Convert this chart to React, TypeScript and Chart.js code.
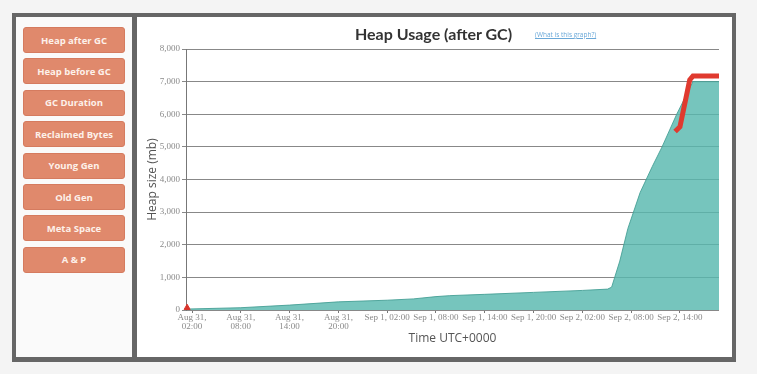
import React, { useEffect, useRef } from "react";
import { Chart, registerables } from "chart.js";

Chart.register(...registerables);

// hours since Aug 31 00:00 UTC
const heapHours = [1.3, 1.5, 8, 14, 20, 26, 29.2, 32, 33.7, 38, 44, 50, 53.1, 53.6, 54.6, 55.6, 57.1, 58.6, 59.8, 61.6, 63.6, 66.8];
const heapValues = [0, 30, 70, 150, 250, 300, 340, 410, 440, 480, 540, 600, 640, 700, 1500, 2500, 3600, 4400, 5000, 6000, 7000, 7000];

const redHours = [61.4, 62, 63.2, 63.6, 66.8];
const redValues = [5470, 5620, 7050, 7170, 7170];

const markerHours = [1.4];
const markerValues = [70];

const yTickValues = [0, 1000, 2000, 3000, 4000, 5000, 6000, 7000, 8000];
const xTickHours = [2, 8, 14, 20, 26, 32, 38, 44, 50, 56, 62];
const xTickLabels: (string | string[])[] = [
  ["Aug 31,", "02:00"],
  ["Aug 31,", "08:00"],
  ["Aug 31,", "14:00"],
  ["Aug 31,", "20:00"],
  "Sep 1, 02:00",
  "Sep 1, 08:00",
  "Sep 1, 14:00",
  "Sep 1, 20:00",
  "Sep 2, 02:00",
  "Sep 2, 08:00",
  "Sep 2, 14:00",
];

const buttonLabels = ["Heap after GC", "Heap before GC", "GC Duration", "Reclaimed Bytes", "Young Gen", "Old Gen", "Meta Space", "A & P"];

export default function App() {
  const ref = useRef<HTMLCanvasElement | null>(null);
  useEffect(() => {
    if (!ref.current) return;
    const toPts = (xs: number[], ys: number[]) => xs.map((x, i) => ({ x, y: ys[i] }));
    const chart = new Chart(ref.current, {
      type: "line",
      data: {
        datasets: [
          {
            data: toPts(markerHours, markerValues),
            showLine: false,
            pointStyle: "triangle",
            pointRadius: 3.5,
            pointBackgroundColor: "#d9342b",
            pointBorderColor: "#d9342b",
            clip: false,
            order: 0,
          } as any,
          {
            data: toPts(redHours, redValues),
            borderColor: "#e03a2f",
            borderWidth: 5,
            pointRadius: 0,
            fill: false,
            order: 1,
          },
          {
            data: toPts(heapHours, heapValues),
            borderColor: "rgba(70,160,150,0.9)",
            borderWidth: 1,
            backgroundColor: "rgba(88,184,174,0.82)",
            pointRadius: 0,
            fill: "origin",
            tension: 0,
            order: 2,
          },
        ],
      },
      options: {
        animation: false,
        responsive: false,
        maintainAspectRatio: false,
        layout: { padding: { top: 32, right: 13, bottom: 11, left: 0 } },
        plugins: { legend: { display: false }, tooltip: { enabled: false }, title: { display: false } },
        scales: {
          x: {
            type: "linear",
            min: 1.26,
            max: 66.8,
            afterBuildTicks: (s: any) => {
              s.ticks = xTickHours.map((v) => ({ value: v }));
            },
            afterFit: (s: any) => {
              s.height = 36;
            },
            ticks: {
              autoSkip: false,
              maxRotation: 0,
              padding: 0,
              color: "#8a8a8a",
              font: { family: "Liberation Serif", size: 9, lineHeight: 1.0 },
              callback: (v: any) => {
                const i = xTickHours.indexOf(Number(v));
                return i >= 0 ? xTickLabels[i] : "";
              },
            },
            grid: { drawOnChartArea: false, tickLength: 3, color: "#777" },
            border: { display: false },
            title: { display: true, text: "Time UTC+0000", color: "#555", font: { family: "Open Sans", size: 12 }, padding: { top: 2, bottom: 0 } },
          },
          y: {
            min: 0,
            max: 8000,
            afterBuildTicks: (s: any) => {
              s.ticks = yTickValues.map((v) => ({ value: v }));
            },
            afterFit: (s: any) => {
              s.width = 49;
            },
            ticks: {
              color: "#8a8a8a",
              padding: 2,
              font: { family: "Liberation Serif", size: 9 },
              callback: (v: any) => Number(v).toLocaleString("en-US"),
            },
            grid: { color: "#888", lineWidth: 1, tickLength: 4 },
            border: { display: true, color: "#777" },
            title: { display: true, text: "Heap size (mb)", color: "#555", font: { family: "Open Sans", size: 12 }, padding: { top: 8, bottom: 0 } },
          },
        },
      },
    });
    return () => chart.destroy();
  }, []);

  return (
    <div style={{ position: "fixed", left: 0, top: 0, width: 757, height: 374, background: "#f4f4f4", overflow: "hidden" }}>
      <div style={{ position: "absolute", left: 12, top: 13, width: 724, height: 349, background: "#666" }} />
      <div style={{ position: "absolute", left: 16, top: 17, width: 116, height: 340, background: "#fafafa" }} />
      <div style={{ position: "absolute", left: 137, top: 17, width: 595, height: 340, background: "#ffffff" }} />
      {buttonLabels.map((b, i) => (
        <div
          key={b}
          style={{
            position: "absolute",
            left: 23,
            top: 27 + i * 31.4,
            width: 102,
            height: 26,
            background: "#e0896c",
            border: "1px solid #d57b5f",
            boxSizing: "border-box",
            borderRadius: 3,
            color: "#fdf1ea",
            fontFamily: "Open Sans",
            fontWeight: 700,
            fontSize: 9.5,
            display: "flex",
            alignItems: "center",
            justifyContent: "center",
          }}
        >
          {b}
        </div>
      ))}
      <canvas ref={ref} width={595} height={340} style={{ position: "absolute", left: 137, top: 17, width: 595, height: 340 }} />
      <div style={{ position: "absolute", left: 336, top: 22, width: 195, textAlign: "center", fontFamily: "Lato", fontWeight: 700, fontSize: 16, color: "#333", lineHeight: "24px" }}>
        Heap Usage (after GC)
      </div>
      <div style={{ position: "absolute", left: 535, top: 31, fontFamily: "Open Sans", fontSize: 6.5, color: "#6aa8d8", textDecoration: "underline", lineHeight: "8px" }}>
        (What is this graph?)
      </div>
    </div>
  );
}
